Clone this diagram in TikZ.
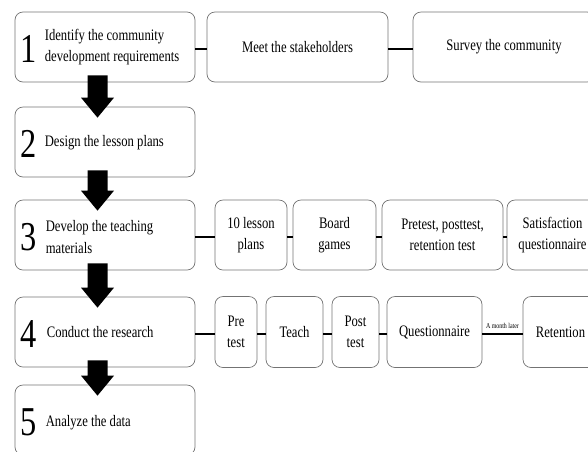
\documentclass[tikz,border=0pt]{standalone}
\usepackage{fontspec}
\setmainfont[FakeStretch=0.79]{Liberation Serif}
\usetikzlibrary{calc}
\definecolor{boxgray}{gray}{0.45}
\newcommand{\txtsize}{\fontsize{16}{21.5}\selectfont}
\newcommand{\numsize}{\fontsize{41}{41}\selectfont}
\newcommand{\latersize}{\fontsize{7.5}{9}\selectfont}

\begin{document}
\begin{tikzpicture}[x=1pt, y=-1pt,
    stepbox/.style={draw=boxgray, line width=0.7pt, rounded corners=8pt,
        minimum width=180pt, minimum height=70pt, inner sep=0pt},
    subbox/.style={draw=boxgray, line width=0.7pt, rounded corners=8pt,
        minimum height=70pt, inner sep=0pt, align=center, font=\txtsize},
    stepnum/.style={font=\numsize, inner sep=0pt},
    steptext/.style={font=\txtsize, anchor=west, align=left, inner sep=0pt},
    link/.style={line width=1.8pt}]
                \useasboundingbox (0,0) rectangle (588,451);
                \clip (0,0) rectangle (588,451);
                % steps
                \node[stepbox] (s1) at (105,47) {};
                \node[stepbox] (s2) at (105,142) {};
                \node[stepbox] (s3) at (105,235) {};
                \node[stepbox] (s4) at (105,332) {};
                \node[stepbox] (s5) at (105,420) {};
                \foreach \i in {1,...,5}
                    \node[stepnum] (n\i) at ($(s\i.west)+(14,2)$) {\i};
                \node[steptext] (t1) at ($(s1.west)+(30,0)$) {Identify the community\\development requirements};
                \node[steptext] (t2) at ($(s2.west)+(30,1)$) {Design the lesson plans};
                \node[steptext] (t3) at ($(s3.west)+(31,2)$) {Develop the teaching\\materials};
                \node[steptext] (t4) at ($(s4.west)+(32,0)$) {Conduct the research};
                \node[steptext] (t5) at ($(s5.west)+(31,3)$) {Analyze the data};
                % row 1
                \node[subbox, minimum width=181] (meet) at (297.5,47) {Meet the stakeholders};
                \node[subbox, minimum width=182] (survey) at (504,47) {Survey the community};
                % row 3
                \node[subbox, minimum width=72] (lessons) at (251,235) {10 lesson\\plans};
                \node[subbox, minimum width=83] (games) at (334.5,235) {Board\\games};
                \node[subbox, minimum width=121] (tests) at (442.5,235) {Pretest, posttest,\\retention test};
                \node[subbox, minimum width=91] (satis) at (552.5,235) {Satisfaction\\questionnaire};
                % row 4
                \node[subbox, minimum width=42, minimum height=71] (pre) at (236,332) {Pre\\test};
                \node[subbox, minimum width=57, minimum height=71] (teach) at (294.5,332) {Teach};
                \node[subbox, minimum width=47, minimum height=71] (post) at (355.5,332) {Post\\test};
                \node[subbox, minimum width=95, minimum height=71] (quest) at (434.5,332) {Questionnaire};
                \node[subbox, minimum width=75, minimum height=71] (reten) at (560.5,332) {Retention};
                % links
                \foreach \a/\b in {s1/meet, meet/survey, s3/lessons, lessons/games, games/tests,
                    tests/satis, s4/pre, pre/teach, teach/post, post/quest, quest/reten}
                    \draw[link] ($(\a.east)+(0,2)$) -- ($(\b.west)+(0,2)$);
                \node[font=\latersize, anchor=south, inner sep=0pt] (later)
                    at ($(quest.east)!0.5!(reten.west)+(0,-3)$) {A month later};
                % block arrows
                \foreach \a/\b in {s1/s2, s2/s3, s3/s4, s4/s5}
                    \fill ($(\a.south)+(-17.5,-7)$) -- ($(\a.south)+(2.5,-7)$)
                        -- ($(\b.north)+(2.5,-9)$) -- ($(\b.north)+(9,-9)$)
                        -- ($(\b.north)+(-7.5,11)$) -- ($(\b.north)+(-24,-9)$)
                        -- ($(\b.north)+(-17.5,-9)$) -- cycle;
\end{tikzpicture}
\end{document}
